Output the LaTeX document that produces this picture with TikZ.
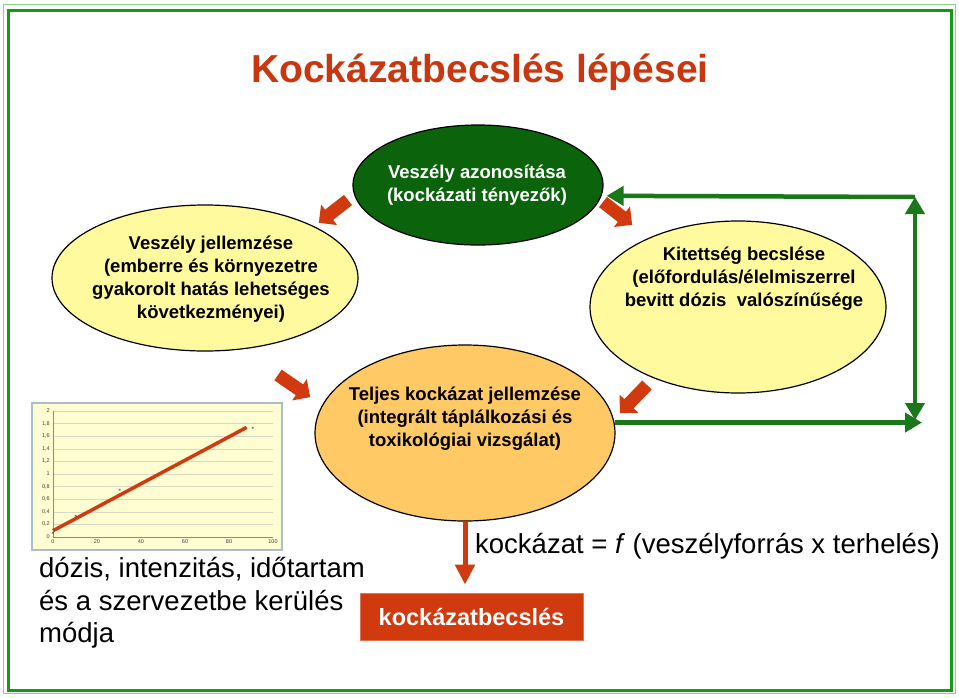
\documentclass[tikz,border=0pt]{standalone}
\usepackage{fontspec}
\setmainfont{Liberation Sans}
\usetikzlibrary{shapes.geometric,arrows.meta}
\definecolor{titlered}{HTML}{C8370F}
\definecolor{arrred}{HTML}{D03A0E}
\definecolor{dgreen}{HTML}{0B640B}
\definecolor{lyellow}{HTML}{FFFA9E}
\definecolor{lorange}{HTML}{FFCA66}
\definecolor{cgreen}{HTML}{1A781A}
\definecolor{fgreen}{HTML}{169A16}
\definecolor{flight}{HTML}{80D880}
\definecolor{chartbg}{HTML}{FFFDD2}
\definecolor{chartbd}{HTML}{A8C0CC}
\definecolor{gridc}{HTML}{D8D8C4}
\begin{document}
\begin{tikzpicture}[x=1pt,y=-1pt,
  ell/.style={ellipse, draw=black, line width=1.2pt, inner sep=0pt},
  etext/.style={align=center, font=\bfseries\fontsize{18.5}{23}\selectfont},
  redblock/.style={fill=arrred},
  garr/.style={draw=cgreen, line width=4.5pt, -{Triangle[length=17pt,width=19pt]}},
  tick/.style={font=\fontsize{5.5}{6}\selectfont, text=black!75, inner sep=1pt},
  bigtext/.style={font=\fontsize{27.5}{32.5}\selectfont, align=left, inner sep=0pt}
 ]
\useasboundingbox (0,0) rectangle (959,697);
\fill[white] (0,0) rectangle (959,697);
% frame
\draw[flight, line width=1pt] (3.5,4.5) rectangle (955.5,693.5);
\draw[fgreen, line width=3pt] (8,10) rectangle (951,690);

% title
\node[font=\bfseries\fontsize{39}{45}\selectfont, text=titlered] (title) at (480,72) {Kockázatbecslés lépései};

% ellipses
\node[ell, fill=dgreen, minimum width=250pt, minimum height=120pt] (haz) at (478,185) {};
\node[ell, fill=lyellow, minimum width=306pt, minimum height=146pt] (char) at (205,278) {};
\node[ell, fill=lyellow, minimum width=296pt, minimum height=172pt] (exp) at (738,307) {};
\node[ell, fill=lorange, minimum width=300pt, minimum height=176pt] (risk) at (465,433) {};

% ellipse texts
\node[etext, text=white] (hazt) at (477,185) {Veszély azonosítása\\(kockázati tényezők)};
\node[etext] (chart) at (211,279) {Veszély jellemzése\\(emberre és környezetre\\gyakorolt hatás lehetséges\\következményei)};
\node[etext] (expt) at (744,279) {Kitettség becslése\\(előfordulás/élelmiszerrel\\bevitt dózis\ \ valószínűsége};
\node[etext] (riskt) at (465,419) {Teljes kockázat jellemzése\\(integrált táplálkozási és\\toxikológiai vizsgálat)};

% red block arrows
\fill[redblock, shift={(348,200)}, rotate=218] (0,-6.5) -- (24,-6.5) -- (24,-13) -- (37,0) -- (24,13) -- (24,6.5) -- (0,6.5) -- cycle;
\fill[redblock, shift={(603,202)}, rotate=-38] (0,-6.5) -- (24,-6.5) -- (24,-13) -- (37,0) -- (24,13) -- (24,6.5) -- (0,6.5) -- cycle;
\fill[redblock, shift={(278,375)}, rotate=-34.5] (0,-6.5) -- (26,-6.5) -- (26,-13) -- (39,0) -- (26,13) -- (26,6.5) -- (0,6.5) -- cycle;
\fill[redblock, shift={(647,385)}, rotate=226] (0,-6.5) -- (26,-6.5) -- (26,-13) -- (39,0) -- (26,13) -- (26,6.5) -- (0,6.5) -- cycle;

% green connectors
\coordinate (tr) at (915,197);
\coordinate (br) at (915,420);
\coordinate (be) at (922,427);
\draw[garr] (tr) -- ([xshift=5pt]haz.-5);
\draw[draw=cgreen, line width=4.5pt, {Triangle[length=17pt,width=19pt]}-{Triangle[length=17pt,width=19pt]}] (tr) -- (br);
\draw[garr] (risk.4) -- (risk.4 -| be);

% result box
\node[fill=arrred, draw=arrred!70!white, line width=0.8pt, minimum width=223pt, minimum height=47pt, text=white, font=\bfseries\fontsize{23.5}{28}\selectfont] (box) at (471.5,616.5) {kockázatbecslés};
\draw[arrred, line width=5pt, -{Triangle[length=20pt,width=19pt]}, shorten >=8pt] (risk.south) -- (risk.south |- box.north);

% texts
\node[bigtext, anchor=west] (dose) at (39,603) {dózis, intenzitás, időtartam\\és a szervezetbe kerülés\\módja};
\node[font=\fontsize{27.5}{33}\selectfont, anchor=west, inner sep=0pt] (formula) at (475,546) {kockázat = \textit{f} (veszélyforrás x terhelés)};

% chart
\node[draw=chartbd, fill=chartbg, line width=1.5pt, minimum width=250pt, minimum height=147pt, inner sep=0pt] (chartbox) at (157,476.5) {};
\foreach \i/\l in {0/0, 1/{0,2}, 2/{0,4}, 3/{0,6}, 4/{0,8}, 5/1, 6/{1,2}, 7/{1,4}, 8/{1,6}, 9/{1,8}, 10/2} {
  \draw[gridc, line width=0.5pt] (53,537-12.6*\i) -- (273,537-12.6*\i);
  \node[tick, anchor=east] (yl\i) at (51,537-12.6*\i) {\l};
}
\draw[black!45, line width=0.6pt] (53,411) -- (53,537) -- (273,537);
\foreach \v in {0,20,40,60,80,100} {
  \node[tick, anchor=north] (xl\v) at (53+2.2*\v,538.5) {\v};
}
\draw[arrred, line width=3.5pt] (53,530.7) -- (246.6,427.4);
\foreach \px/\py [count=\k] in {53/533, 76/516, 120/490, 253/428} {
  \node[font=\fontsize{5}{5}\selectfont, inner sep=0pt] (pt\k) at (\px,\py) {$\ast$};
}
\end{tikzpicture}
\end{document}
